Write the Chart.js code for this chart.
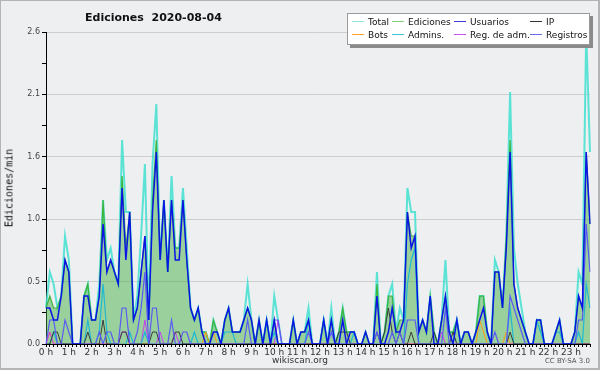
<!DOCTYPE html>
<html>
<head>
<meta charset="utf-8">
<script src="https://cdn.jsdelivr.net/npm/chart.js@4.4.0/dist/chart.umd.min.js"></script>
<style>
  html, body { margin: 0; padding: 0; }
  body { width: 600px; height: 370px; background: #eeeff1; position: relative; overflow: hidden; font-family: "DejaVu Sans", sans-serif; }
  #chart { position: absolute; left: 0; top: 0; }
  .frame { position: absolute; left: 0; top: 0; width: 597px; height: 367px; border: 1px solid #b4b4b4; border-right-width: 2px; border-bottom-width: 2px; pointer-events: none; }
  .title { position: absolute; left: 85px; top: 11px; font: bold 11px "DejaVu Sans"; white-space: pre; color: #111; }
  .ytitle { position: absolute; left: 9px; top: 188px; transform: translate(-50%, -50%) rotate(-90deg); font: 10px "DejaVu Sans Mono"; white-space: nowrap; color: #111; }
  .legend { position: absolute; left: 347px; top: 13px; width: 241px; height: 30px; background: #fff; border: 1px solid #9a9a9a; box-shadow: 3px 3px 0 #8a8a8a; }
  .legend .item { position: absolute; height: 12px; font: 9px "DejaVu Sans"; color: #111; white-space: nowrap; line-height: 12px; }
  .legend .line { display: inline-block; width: 12px; height: 1px; vertical-align: middle; margin-right: 4px; position: relative; top: -1px; }
  .footer { position: absolute; left: 0; width: 600px; top: 355px; text-align: center; font: 9px "DejaVu Sans"; color: #333; }
  .cc { position: absolute; right: 10px; top: 357px; font: 7px "DejaVu Sans"; color: #555; }
</style>
</head>
<body>
<canvas id="chart" width="600" height="370"></canvas>
<div class="title">Ediciones  2020-08-04</div>
<div class="ytitle">Ediciones/min</div>
<div class="legend" id="legend"></div>
<div class="footer">wikiscan.org</div>
<div class="cc">CC BY-SA 3.0</div>
<div class="frame"></div>
<script>
// one value per 10 minutes, edits per minute
const hourLabels = ["0 h", "1 h", "2 h", "3 h", "4 h", "5 h", "6 h", "7 h", "8 h", "9 h", "10 h", "11 h",
  "12 h", "13 h", "14 h", "15 h", "16 h", "17 h", "18 h", "19 h", "20 h", "21 h", "22 h", "23 h"];

const totalData = [
  .3, .6, .5, .3, .4, .9,   .7, 0, 0, 0, .4, .5,   .2, .2, .5, 1.2, .7, .8,   .6, .5, 1.7, 1.1, 1.1, .2,
  .4, .9, 1.5, .2, 1.5, 2.0,   .7, 1.2, .6, 1.4, .8, .8,   1.3, .8, .3, .2, .3, .1,   .1, 0, .2, .1, 0, .2,
  .3, .1, .1, .1, .2, .5,   .2, 0, .2, 0, .2, 0,   .4, .2, 0, 0, 0, .2,   0, .1, .1, .3, 0, 0,
  0, .2, 0, .3, 0, .1,   .3, .1, .1, .1, 0, 0,   .1, 0, 0, .6, 0, .1,   .4, .5, .1, .3, .2, 1.3,
  1.1, 1.1, .1, .2, .1, .4,   .1, 0, .2, .7, .1, .1,   .2, 0, .1, .1, 0, .1,   .4, .4, .1, 0, .7, .6,
  .3, .9, 2.1, .8, .5, .3,   .1, 0, 0, .2, .2, 0,   0, 0, .1, .2, 0, 0,   0, .1, .6, .5, 2.6, 1.6
];
const edicionesData = [
  .3, .4, .3, .3, .4, .7,   .6, 0, 0, 0, .4, .5,   .2, .2, .4, 1.2, .6, .7,   .6, .5, 1.4, .8, 1.1, .2,
  .3, .6, .9, .2, 1.2, 1.7,   .7, 1.2, .6, 1.2, .8, .8,   1.2, .7, .3, .2, .3, .1,   .1, 0, .2, .1, 0, .2,
  .3, .1, .1, .1, .2, .3,   .2, 0, .2, 0, .2, 0,   .2, 0, 0, 0, 0, .2,   0, .1, .1, .2, 0, 0,
  0, .2, 0, .2, 0, .1,   .3, .1, .1, .1, 0, 0,   .1, 0, 0, .5, 0, .1,   .4, .4, .1, .2, .2, 1.1,
  .9, .9, .1, .2, .1, .4,   .1, 0, .2, .4, .1, .1,   .2, 0, .1, .1, 0, .1,   .4, .4, .1, 0, .6, .6,
  .3, .9, 1.7, .5, .3, .2,   .1, 0, 0, .2, .2, 0,   0, 0, .1, .2, 0, 0,   0, .1, .4, .3, 1.6, 1.0
];
const usuariosData = [
  .3, .3, .2, .2, .4, .7,   .6, 0, 0, 0, .4, .4,   .2, .2, .4, 1.0, .6, .7,   .6, .5, 1.3, .7, 1.1, .2,
  .3, .6, .9, .2, 1.1, 1.6,   .7, 1.2, .6, 1.2, .7, .7,   1.2, .7, .3, .2, .3, .1,   0, 0, .1, .1, 0, .2,
  .3, .1, .1, .1, .2, .3,   .2, 0, .2, 0, .2, 0,   .2, 0, 0, 0, 0, .2,   0, .1, .1, .2, 0, 0,
  0, .2, 0, .2, 0, 0,   .2, 0, .1, .1, 0, 0,   .1, 0, 0, .4, 0, 0,   .1, .3, .1, .1, .2, 1.1,
  .8, .9, .1, .2, .1, .4,   0, 0, .2, .4, .1, 0,   .2, 0, .1, .1, 0, .1,   .2, .3, .1, 0, .6, .6,
  .3, .8, 1.6, .5, .3, .2,   .1, 0, 0, .2, .2, 0,   0, 0, .1, .2, 0, 0,   0, .1, .4, .3, 1.6, 1.0
];
const ipData = [
  0, 0, .1, .1, 0, 0,   0, 0, 0, 0, 0, .1,   0, 0, 0, .2, 0, 0,   0, 0, .1, .1, 0, 0,
  0, 0, 0, 0, .1, .1,   0, 0, 0, 0, .1, .1,   0, 0, 0, 0, 0, 0,   0, 0, 0, 0, 0, 0,
  0, 0, 0, 0, 0, 0,   0, 0, 0, 0, 0, 0,   0, 0, 0, 0, 0, 0,   0, 0, 0, 0, 0, 0,
  0, 0, 0, 0, 0, .1,   .1, .1, 0, 0, 0, 0,   0, 0, 0, .1, 0, .1,   .3, .1, 0, .1, 0, 0,
  .1, 0, 0, 0, 0, 0,   .1, 0, 0, 0, 0, .1,   0, 0, 0, 0, 0, 0,   0, 0, 0, 0, 0, 0,
  0, 0, .1, 0, 0, 0,   0, 0, 0, 0, 0, 0,   0, 0, 0, 0, 0, 0,   0, 0, 0, 0, 0, 0
];
const botsData = [
  0, .1, 0, 0, 0, 0,   0, 0, 0, 0, 0, 0,   0, 0, 0, 0, 0, 0,   0, 0, 0, 0, 0, 0,
  0, 0, 0, 0, 0, 0,   0, 0, 0, 0, 0, 0,   0, 0, 0, 0, 0, 0,   .1, 0, .1, 0, 0, 0,
  0, 0, 0, 0, 0, 0,   0, 0, 0, 0, 0, 0,   0, 0, 0, 0, 0, 0,   0, 0, 0, 0, 0, 0,
  0, 0, 0, 0, 0, 0,   0, 0, 0, 0, 0, 0,   0, 0, 0, 0, 0, 0,   0, 0, 0, 0, 0, 0,
  0, 0, 0, 0, 0, 0,   0, 0, 0, 0, 0, 0,   0, 0, 0, 0, 0, 0,   .2, .1, 0, 0, 0, 0,
  0, .1, 0, 0, 0, 0,   0, 0, 0, 0, 0, 0,   0, 0, 0, 0, 0, 0,   0, 0, 0, 0, 0, 0
];
const adminsData = [
  0, 0, .1, 0, 0, 0,   0, 0, 0, 0, 0, .2,   0, 0, .1, .5, .1, 0,   0, 0, 0, 0, .1, 0,
  0, 0, .1, 0, 0, 0,   0, 0, 0, 0, 0, 0,   0, 0, 0, .1, 0, 0,   0, 0, 0, 0, 0, .1,
  .1, .1, 0, 0, 0, 0,   0, 0, 0, 0, .2, 0,   .1, 0, 0, 0, 0, 0,   0, 0, 0, .2, 0, 0,
  0, .2, 0, 0, 0, 0,   0, 0, 0, .1, 0, 0,   0, 0, 0, 0, 0, 0,   0, 0, 0, 0, 0, .5,
  .7, .8, 0, 0, 0, 0,   0, 0, 0, 0, 0, 0,   .2, 0, 0, 0, 0, 0,   0, 0, 0, 0, 0, 0,
  0, 0, .3, 0, 0, 0,   0, 0, 0, .2, .1, 0,   0, 0, .1, .1, 0, 0,   0, 0, .1, 0, .5, .3
];
const regAdmData = [
  0, .1, 0, 0, 0, 0,   0, 0, 0, 0, 0, 0,   0, 0, 0, 0, 0, 0,   0, 0, .1, .1, 0, 0,
  0, 0, .2, 0, 0, 0,   .1, 0, 0, 0, .1, 0,   0, 0, 0, 0, 0, 0,   0, 0, 0, 0, 0, 0,
  0, 0, 0, 0, 0, 0,   0, 0, 0, 0, 0, 0,   0, .2, 0, 0, 0, 0,   0, 0, 0, 0, 0, 0,
  0, 0, 0, 0, 0, 0,   0, 0, 0, 0, 0, 0,   0, 0, 0, 0, 0, 0,   0, 0, 0, 0, 0, 0,
  0, 0, 0, 0, 0, 0,   0, 0, .1, 0, 0, 0,   0, 0, 0, 0, 0, 0,   0, 0, 0, 0, 0, 0,
  0, 0, 0, 0, 0, 0,   0, 0, 0, 0, 0, 0,   0, 0, 0, 0, 0, 0,   0, 0, 0, 0, 0, 0
];
const registrosData = [
  0, .2, .2, 0, 0, .2,   .1, 0, 0, 0, 0, 0,   0, 0, .1, 0, .1, .1,   0, 0, .3, .3, 0, 0,
  .1, .3, .6, 0, .3, .3,   0, 0, 0, .2, 0, 0,   .1, .1, 0, 0, 0, 0,   0, 0, 0, 0, 0, 0,
  0, 0, 0, 0, 0, .2,   0, 0, 0, 0, 0, 0,   .2, .2, 0, 0, 0, 0,   0, 0, 0, .1, 0, 0,
  0, 0, 0, .1, 0, 0,   0, 0, 0, 0, 0, 0,   0, 0, 0, .1, 0, 0,   0, .1, 0, .1, 0, .2,
  .2, .2, 0, 0, 0, 0,   0, 0, 0, .3, 0, 0,   0, 0, 0, 0, 0, 0,   0, 0, 0, 0, .1, 0,
  0, 0, .4, .3, .2, .1,   0, 0, 0, 0, 0, 0,   0, 0, 0, 0, 0, 0,   0, 0, .2, .2, 1.0, .6
];

// y axis: major ticks every 0.52, minor in between
const yTicks = [0, 0.26, 0.52, 0.78, 1.04, 1.3, 1.56, 1.82, 2.08, 2.34, 2.6];
const yTickLabels = ["0.0", "", "0.5", "", "1.0", "", "1.6", "", "2.1", "", "2.6"];

const legendItems = [
  { label: "Total", color: "#8ee6dc" },
  { label: "Ediciones", color: "#7fd07f" },
  { label: "Usuarios", color: "#3a3ae0" },
  { label: "IP", color: "#333333" },
  { label: "Bots", color: "#ffa030" },
  { label: "Admins.", color: "#3cc6da" },
  { label: "Reg. de adm.", color: "#d050f0" },
  { label: "Registros", color: "#6a6af5" },
];

document.addEventListener("DOMContentLoaded", () => {
  // legend, 4 columns x 2 rows
  const legend = document.getElementById("legend");
  const colX = [4, 44, 106, 182];
  const rowY = [2, 15];
  legendItems.forEach((it, i) => {
    const el = document.createElement("div");
    el.className = "item";
    el.style.left = colX[i % 4] + "px";
    el.style.top = rowY[Math.floor(i / 4)] + "px";
    el.innerHTML = `<span class="line" style="background:${it.color}"></span>${it.label}`;
    legend.appendChild(el);
  });

  const slots = [];
  hourLabels.forEach((h) => {
    for (let m = 0; m < 60; m += 10) slots.push(h.replace(" h", "") + ":" + String(m).padStart(2, "0"));
  });

  const line = (label, data, color, width, extra = {}) => ({
    label,
    data,
    borderColor: color,
    borderWidth: width,
    pointRadius: 0,
    tension: 0,
    fill: false,
    ...extra,
  });

  new Chart(document.getElementById("chart"), {
    type: "line",
    data: {
      labels: slots,
      datasets: [
        line("Usuarios", usuariosData, "#0a14e6", 1.5),
        line("Registros", registrosData, "#5a5af5", 1.2),
        line("IP", ipData, "#3a3a3a", 1),
        line("Admins.", adminsData, "#1fb9d2", 1.2),
        line("Reg. de adm.", regAdmData, "#c83cf0", 1),
        line("Bots", botsData, "#ff9a1a", 1),
        line("Ediciones", edicionesData, "#3cb43c", 1.2, { fill: "origin", backgroundColor: "rgba(50,170,50,0.45)" }),
        line("Total", totalData, "rgba(64,224,208,0.85)", 2),
      ],
    },
    options: {
      responsive: false,
      animation: false,
      devicePixelRatio: 1,
      layout: { padding: { top: 32, right: 10, left: 0, bottom: 0 } },
      plugins: { legend: { display: false }, tooltip: { enabled: false } },
      scales: {
        x: {
          type: "category",
          offset: false,
          afterFit: (scale) => { scale.height = 26; },
          grid: { drawOnChartArea: false, drawTicks: true, tickLength: 3, tickColor: "#000" },
          border: { color: "#000", width: 1 },
          ticks: {
            autoSkip: false,
            maxRotation: 0,
            padding: 0,
            color: "#333",
            font: { family: "DejaVu Sans", size: 9 },
            callback: (v, i) => (i % 6 === 0 ? hourLabels[i / 6] : ""),
          },
        },
        y: {
          min: 0,
          max: 2.6,
          afterFit: (scale) => { scale.width = 46; },
          afterBuildTicks: (scale) => { scale.ticks = yTicks.map((v) => ({ value: v })); },
          grid: {
            color: (ctx) => (ctx.index > 0 && ctx.index % 2 === 0 ? "#cdcdcd" : "rgba(0,0,0,0)"),
            tickColor: "#000",
            tickLength: 4,
          },
          border: { color: "#000", width: 1 },
          ticks: {
            padding: 2,
            color: "#444",
            font: { family: "DejaVu Sans", size: 8 },
            callback: (v, i) => yTickLabels[i],
          },
        },
      },
    },
  });
});
</script>
</body>
</html>
